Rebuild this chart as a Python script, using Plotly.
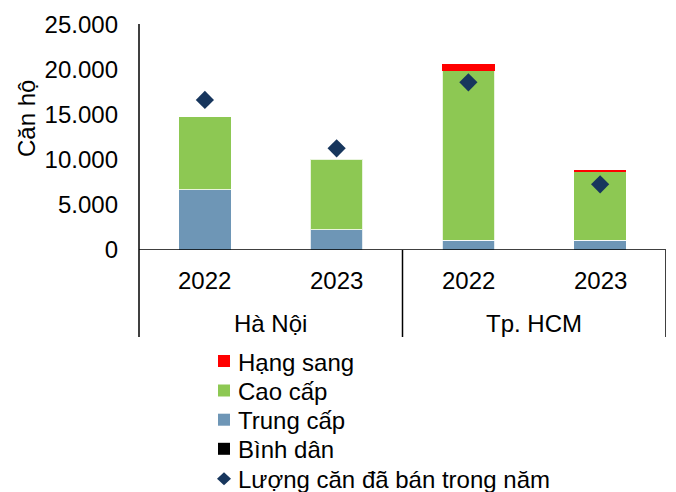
import plotly.graph_objects as go

years = ["2022", "2023", "2022", "2023"]
cities = ["Hà Nội", "Tp. HCM"]
binh_dan = [0, 0, 0, 0]
trung_cap = [6670, 2260, 1070, 1070]
cao_cap = [8110, 7810, 18820, 7630]
hang_sang = [0, 0, 780, 190]
da_ban = [16670, 11300, 18630, 7300]
y_ticks = [0, 5000, 10000, 15000, 20000, 25000]
y_ticktext = ["0", "5.000", "10.000", "15.000", "20.000", "25.000"]

FONT = "Liberation Sans, Arial, sans-serif"
xs = [0, 1, 2, 3]

C_BD, C_TC, C_CC, C_HS, C_DB = "#000000", "#6E96B6", "#8DC853", "#FF0000", "#17365D"

fig = go.Figure()
line = dict(color="rgba(255,255,255,0.8)", width=1)
fig.add_trace(go.Bar(x=xs, y=binh_dan, name="Bình dân", marker=dict(color=C_BD, line=line), width=0.4))
fig.add_trace(go.Bar(x=xs, y=trung_cap, name="Trung cấp", marker=dict(color=C_TC, line=line), width=0.4))
fig.add_trace(go.Bar(x=xs, y=cao_cap, name="Cao cấp", marker=dict(color=C_CC, line=line), width=0.4))
fig.add_trace(go.Bar(x=xs, y=hang_sang, name="Hạng sang", marker=dict(color=C_HS, line=dict(width=0)), width=0.4))
fig.add_trace(go.Scatter(x=xs, y=da_ban, name="Lượng căn đã bán trong năm", mode="markers",
                         marker=dict(symbol="diamond", size=14, color=C_DB)))

# plot area in pixels
L, R, T, B = 139, 666, 25, 250
PW, PH = R - L, B - T
def px(xp):
    return (xp - L) / PW
def py(yp):
    return (B - yp) / PH

fig.update_layout(
    width=676, height=492,
    margin=dict(l=L, r=676 - R, t=T, b=492 - B, autoexpand=False),
    barmode="stack",
    plot_bgcolor="white", paper_bgcolor="white",
    font=dict(family=FONT, size=24, color="#000000"),
    showlegend=False,
    xaxis=dict(range=[-0.5, 3.5], showticklabels=False, showgrid=False, zeroline=False,
               showline=False, ticks=""),
    yaxis=dict(range=[0, 25000], tickvals=y_ticks, ticktext=y_ticktext, showgrid=False,
               zeroline=False, showline=False, ticks="", ticklabelstandoff=20,
               tickfont=dict(size=24, family=FONT)),
)

# axis lines
ybot = py(337)
fig.add_shape(type="line", xref="paper", yref="paper", x0=0, x1=0, y0=py(24), y1=ybot,
              line=dict(color="black", width=1.5))
fig.add_shape(type="line", xref="paper", yref="y", x0=0, x1=1, y0=0, y1=0,
              line=dict(color="black", width=1.5))
for xv in [1.5, 3.5]:
    fig.add_shape(type="line", xref="x", yref="paper", x0=xv, x1=xv, y0=0, y1=ybot,
                  line=dict(color="black", width=1.5))

for xv, yr in zip(xs, years):
    fig.add_annotation(x=xv, y=py(280), xref="x", yref="paper", text=yr, showarrow=False,
                       font=dict(size=24, family=FONT), yanchor="middle")
for xv, c in zip([0.5, 2.5], cities):
    fig.add_annotation(x=xv, y=py(323), xref="x", yref="paper", text=c, showarrow=False,
                       font=dict(size=24, family=FONT), yanchor="middle")

fig.add_annotation(x=px(26), y=py(119), xref="paper", yref="paper", text="Căn hộ",
                   showarrow=False, textangle=-90, font=dict(size=24, family=FONT),
                   xanchor="center", yanchor="middle")

# legend (Excel-style tight spacing)
legend_items = [("Hạng sang", C_HS, "square"), ("Cao cấp", C_CC, "square"),
                ("Trung cấp", C_TC, "square"), ("Bình dân", C_BD, "square"),
                ("Lượng căn đã bán trong năm", C_DB, "diamond")]
row_y = [361, 390.5, 419.7, 448.8, 478.8]
mx = 224
for (name, col, sym), ry in zip(legend_items, row_y):
    if sym == "square":
        fig.add_shape(type="rect", xref="paper", yref="paper",
                      x0=px(mx - 6), x1=px(mx + 6), y0=py(ry - 6), y1=py(ry + 6),
                      fillcolor=col, line=dict(width=0))
    else:
        path = (f"M {px(mx - 7)},{py(ry)} L {px(mx)},{py(ry - 6.5)} "
                f"L {px(mx + 7)},{py(ry)} L {px(mx)},{py(ry + 6.5)} Z")
        fig.add_shape(type="path", xref="paper", yref="paper", path=path,
                      fillcolor=col, line=dict(width=0))
    fig.add_annotation(x=px(236), y=py(ry + 1), xref="paper", yref="paper", text=name,
                       showarrow=False, xanchor="left", yanchor="middle",
                       font=dict(size=24, family=FONT))

fig.write_html("out.html")
